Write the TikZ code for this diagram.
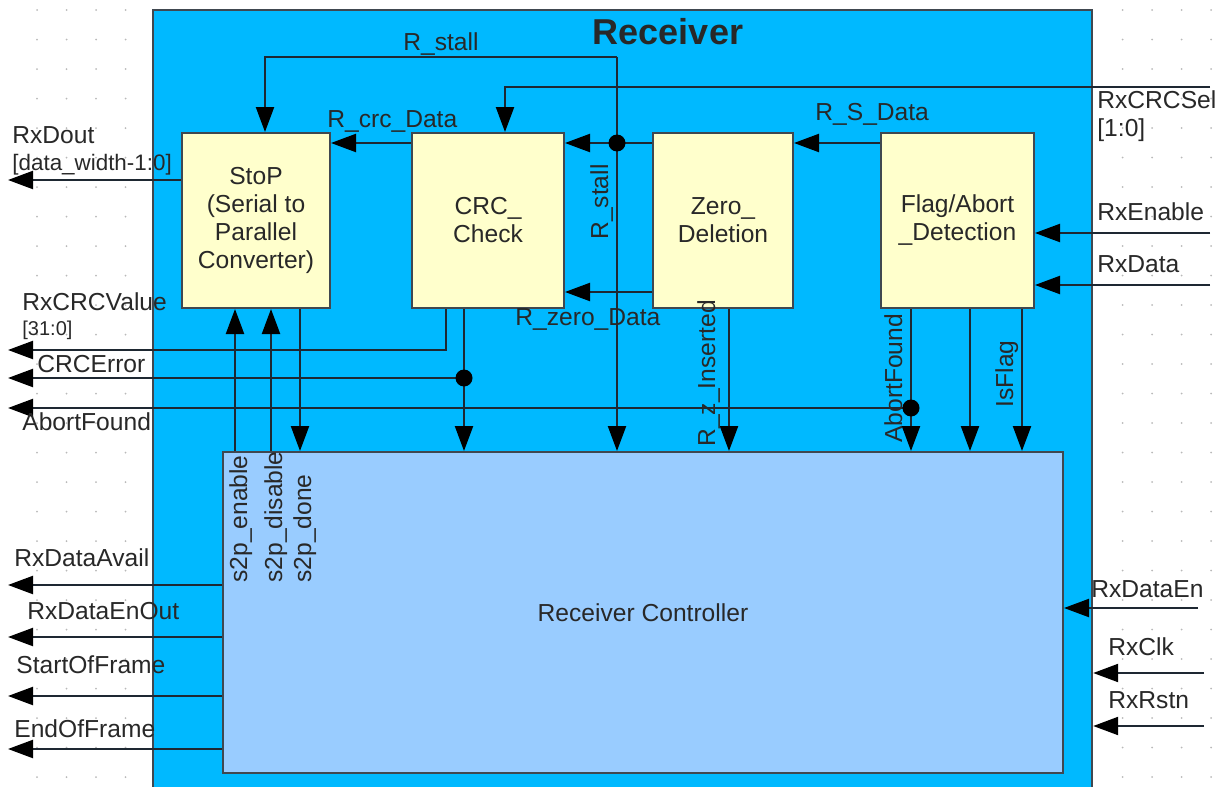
\documentclass[tikz,border=0pt]{standalone}
\usepackage{fontspec}
\setmainfont{Liberation Sans}
\usetikzlibrary{arrows.meta,positioning,calc}

\definecolor{rcvblue}  {RGB}{0,185,255}
\definecolor{blkyellow}{RGB}{255,255,204}
\definecolor{ctrlblue} {RGB}{153,204,255}
\definecolor{wiregray} {RGB}{30,40,50}
\definecolor{edgegray} {RGB}{64,72,80}
\definecolor{txtgray}  {RGB}{40,40,40}
\definecolor{gridgray} {RGB}{185,185,185}

\newcommand{\sigfont}{\fontsize{12.3}{14}\selectfont}
\newcommand{\busfont}{\fontsize{11.2}{13}\selectfont}

\tikzset{
  rcvbox/.style={draw=edgegray,fill=rcvblue,line width=1.2pt,inner sep=0pt,
                 minimum width=469.5pt,minimum height=395pt},
  rcvtitle/.style={font=\fontsize{18}{20}\selectfont\bfseries,text=txtgray,
                   inner sep=0pt,anchor=base},
  blk/.style={draw=edgegray,fill=blkyellow,line width=1pt,inner sep=0pt,
              minimum height=87.5pt,align=center,font=\sigfont,text=txtgray},
  ctrlblk/.style={blk,fill=ctrlblue,minimum width=420pt,minimum height=160.5pt},
  wire/.style={draw=wiregray,line width=1.1pt},
  arr/.style={wire,-{Triangle[length=12.5pt,width=9pt,color=black]}},
  jdot/.style={circle,fill=black,inner sep=0pt,minimum size=8.5pt},
  sig/.style={font=\sigfont,text=txtgray,inner sep=0pt,anchor=base west},
  vsig/.style={sig,rotate=90},
  bus/.style={sig,font=\busfont},
}

\begin{document}
\begin{tikzpicture}[x=0.5pt,y=-0.5pt]
  \useasboundingbox (0,0) rectangle (1228,787);
  \clip (0,0) rectangle (1228,787);

  % editor grid
  \foreach \gx in {37,66.5,96,125.5,1122.5,1152,1181.5,1211}
    \foreach \gy in {10,39.5,...,787}
      \fill[gridgray] (\gx,\gy) circle[radius=0.5pt];

  % receiver frame
  \node[rcvbox]   (rcv)   at (622.5,405) {};
  \node[rcvtitle] (title) at (668,44) {Receiver};

  % blocks
  \node[blk,minimum width=74pt]   (stop) at (256,220.5)   {StoP\\(Serial to\\Parallel\\Converter)};
  \node[blk,minimum width=76pt]   (crc)  at (488,220.5)   {CRC\_\\Check};
  \node[blk,minimum width=70pt]   (zero) at (723,220.5)   {Zero\_\\Deletion};
  \node[blk,minimum width=76.5pt] (flag) at (957.5,220.5) {Flag/Abort\\\_Detection};
  \node[ctrlblk]                  (ctrl) at (643,612.5)   {Receiver Controller};

  % data path between the blocks
  \draw[arr] (flag.west |- 0,143) -- (zero.east |- 0,143);
  \draw[arr] (zero.west |- 0,143) -- (crc.east |- 0,143);
  \draw[arr] (crc.west |- 0,143)  -- (stop.east |- 0,143);
  \draw[arr] (zero.west |- 0,292) -- (crc.east |- 0,292);

  % R_stall
  \coordinate (stall) at (617,57);
  \coordinate (jstall) at (617,143);
  \draw[arr] (stall) -- (stall |- ctrl.north);
  \draw[arr] (stall) -| (265,0 |- stop.north);

  % RxCRCSel
  \coordinate (RxCRCSel) at (1210,87);
  \draw[arr] (RxCRCSel) -| (505,0 |- crc.north);

  % StoP output
  \coordinate (RxDout) at (8,180);
  \draw[arr] (stop.west |- RxDout) -- (RxDout);

  % CRC outputs
  \coordinate (RxCRCValue) at (8,350);
  \coordinate (CRCError) at (8,378);
  \coordinate (jcrc) at (464,378);
  \draw[arr] (446,0 |- crc.south) |- (RxCRCValue);
  \draw[arr] (464,0 |- crc.south) -- (464,0 |- ctrl.north);
  \draw[arr] (jcrc) -- (CRCError);

  % flag outputs
  \coordinate (AbortFound) at (8,408);
  \coordinate (jabort) at (911,408);
  \draw[arr] (911,0 |- flag.south)  -- (911,0 |- ctrl.north);
  \draw[arr] (970,0 |- flag.south)  -- (970,0 |- ctrl.north);
  \draw[arr] (1022,0 |- flag.south) -- (1022,0 |- ctrl.north);
  \draw[arr] (jabort) -- (AbortFound);

  % zero deletion to controller
  \draw[arr] (729,0 |- zero.south) -- (729,0 |- ctrl.north);

  % s2p handshake
  \draw[arr] (235,0 |- ctrl.north) -- (235,0 |- stop.south);
  \draw[arr] (271,0 |- ctrl.north) -- (271,0 |- stop.south);
  \draw[arr] (300,0 |- stop.south) -- (300,0 |- ctrl.north);

  % controller outputs
  \foreach \yy/\lx/\ly/\nm in {585/14/566/RxDataAvail,637/27/619/RxDataEnOut,
                               696/16/673/StartOfFrame,749/14/737/EndOfFrame} {
    \coordinate (\nm) at (8,\yy);
    \draw[arr] (ctrl.west |- \nm) -- (\nm);
    \node[sig] (l\nm) at (\lx,\ly) {\nm};
  }

  % right inputs
  \coordinate (RxEnable) at (1210,233);
  \coordinate (RxData)   at (1210,285);
  \coordinate (RxDataEn) at (1198,608);
  \coordinate (RxClk)    at (1204,673);
  \coordinate (RxRstn)   at (1204,726);
  \draw[arr] (RxEnable) -- (flag.east |- RxEnable);
  \draw[arr] (RxData)   -- (flag.east |- RxData);
  \draw[arr] (RxDataEn) -- (ctrl.east |- RxDataEn);
  \draw[arr] (RxClk)    -- (rcv.east |- RxClk);
  \draw[arr] (RxRstn)   -- (rcv.east |- RxRstn);

  % junctions
  \node[jdot] (dstall) at (jstall) {};
  \node[jdot] (dcrc)   at (jcrc) {};
  \node[jdot] (dabort) at (jabort) {};

  % labels
  \node[sig]  (lstall)     at (403,50)   {R\_stall};
  \node[vsig] (lstallv)    at (608,240)  {R\_stall};
  \node[sig]  (lcrcdata)   at (327,127)  {R\_crc\_Data};
  \node[sig]  (lsdata)     at (815,120)  {R\_S\_Data};
  \node[sig]  (lzerodata)  at (515,325)  {R\_zero\_Data};
  \node[sig]  (lcrcsel)    at (1097,108) {RxCRCSel};
  \node[sig]  (lcrcselbus) at (1097,136) {[1:0]};
  \node[sig]  (ldout)      at (12,143)   {RxDout};
  \node[bus]  (ldoutbus)   at (12,170)   {[data\_width-1:0]};
  \node[sig]  (lcrcval)    at (22,310)   {RxCRCValue};
  \node[bus,font=\fontsize{10}{12}\selectfont] (lcrcvalbus) at (22,335) {[31:0]};
  \node[sig]  (lcrcerr)    at (37,372)   {CRCError};
  \node[sig]  (labort)     at (22,430)   {AbortFound};
  \node[vsig] (labortv)    at (902,443)  {AbortFound};
  \node[vsig] (lisflag)    at (1013,408) {IsFlag};
  \node[vsig] (lzins)      at (715,447)  {R\_z\_Inserted};
  \node[vsig] (ls2pen)     at (247,583)  {s2p\_enable};
  \node[vsig] (ls2pdis)    at (282,583)  {s2p\_disable};
  \node[vsig] (ls2pdone)   at (311,583)  {s2p\_done};
  \node[sig]  (lenable)    at (1097,220) {RxEnable};
  \node[sig]  (ldata)      at (1097,272) {RxData};
  \node[sig]  (ldataen)    at (1091,597) {RxDataEn};
  \node[sig]  (lclk)       at (1108,655) {RxClk};
  \node[sig]  (lrstn)      at (1108,708) {RxRstn};
\end{tikzpicture}
\end{document}
